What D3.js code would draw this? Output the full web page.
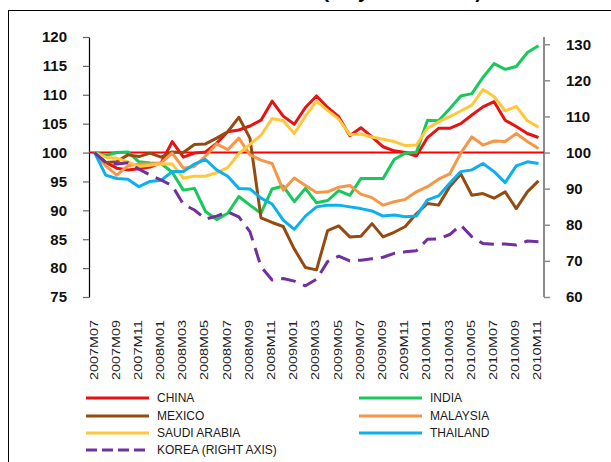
<!DOCTYPE html>
<html><head><meta charset="utf-8">
<script src="https://cdn.jsdelivr.net/npm/d3@7"></script>
<style>body{margin:0;background:#fff}svg{display:block}</style>
</head><body>
<svg id="c" width="611" height="462"></svg>
<script>
const months = ["2007M07","2007M08","2007M09","2007M10","2007M11","2007M12",
"2008M01","2008M02","2008M03","2008M04","2008M05","2008M06","2008M07","2008M08","2008M09","2008M10","2008M11","2008M12",
"2009M01","2009M02","2009M03","2009M04","2009M05","2009M06","2009M07","2009M08","2009M09","2009M10","2009M11","2009M12",
"2010M01","2010M02","2010M03","2010M04","2010M05","2010M06","2010M07","2010M08","2010M09","2010M10","2010M11"];
const tickLabels = ["2007M07","2007M09","2007M11","2008M01","2008M03","2008M05","2008M07","2008M09","2008M11",
"2009M01","2009M03","2009M05","2009M07","2009M09","2009M11","2010M01","2010M03","2010M05","2010M07","2010M09","2010M11"];
const leftTicks = [75,80,85,90,95,100,105,110,115,120];
const rightTicks = [60,70,80,90,100,110,120,130];

const china = [100,98.3,97.3,97,97.2,97.5,98.2,101.9,99.2,99.9,100.1,101.6,103.6,103.9,104.6,105.6,108.9,106.3,104.9,107.8,109.8,107.8,106.2,102.9,104.3,102.7,101,100.3,100,99.4,102.6,104.2,104.2,105,106.5,107.9,108.8,105.6,104.5,103.3,102.6];
const india = [100,99.5,100,100.1,98.4,98.2,98.1,96.6,93.5,93.8,89.8,88.4,89.5,92.4,90.9,89.5,93.7,94.2,91.5,93.8,91.3,91.7,93.4,92.6,95.5,95.5,95.5,98.8,99.9,100,105.6,105.5,107.6,109.8,110.2,113,115.4,114.4,114.9,117.3,118.5];
const mexico = [100,98.3,98.4,99.6,99.3,99.9,99.2,100.1,100,101.4,101.5,102.5,103.6,106.1,102.5,88.7,87.9,87.2,83.3,80.1,79.7,86.5,87.3,85.4,85.5,87.7,85.4,86.2,87.2,89.4,91.2,90.9,94.1,96.3,92.6,92.9,92.1,93.2,90.3,93.2,95.1];
const malaysia = [100,97.7,96.1,97.7,98,98,98.2,99.9,97.3,97.6,99.4,101.5,100.5,102.5,99.6,98.7,98.1,93.5,95.6,94.3,93.1,93.2,94,94.3,92.8,92.2,90.9,91.5,91.9,93.2,94.1,95.4,96.3,99.9,102.7,101.3,102,101.9,103.3,101.9,100.7];
const saudi = [100,99.2,99,98.4,97.6,97.8,98,98,95.6,95.9,95.9,96.5,97.4,99.8,101.4,103,105.9,105.5,103.3,106.3,108.9,107.3,105.8,103.1,103.2,102.7,102.3,101.9,101.2,101.3,104.2,105.3,106.2,107.2,108.2,110.9,109.7,107.2,108,105.5,104.4];
const thailand = [100,96.1,95.5,95.4,94.1,95,95.2,96.7,96.7,98,98.8,97,95.9,93.8,93.7,92.1,91.1,88.3,86.7,89,90.6,90.9,90.9,90.6,90.3,89.9,89,89.2,88.9,89,91.8,92.5,94.7,96.7,97,98.1,96.7,94.8,97.7,98.4,98.1];
const korea = [100,97.2,96.8,97.2,95.4,93.8,92.4,90.8,85.7,84.1,81.6,82.4,83.6,82.2,78.1,68.4,64.7,65.1,64.4,63.1,64.9,69.8,71.3,70,70.2,70.6,71,72.1,72.5,72.8,76,76.1,77.3,79.9,76.7,74.8,74.6,74.7,74.4,75.5,75.3];

const seriesNames = ["CHINA","INDIA","MEXICO","MALAYSIA","SAUDI ARABIA","THAILAND","KOREA (RIGHT AXIS)"];
const seriesValues = [china,india,mexico,malaysia,saudi,thailand,korea];
const seriesColors = ["#e81212","#16c95a","#954a10","#f79646","#ffc83a","#0cb0ee","#7030a0"];
const seriesAxis = ["L","L","L","L","L","L","R"];

const svg = d3.select("#c");
const font = "'Liberation Sans', Arial, sans-serif";

// outer frame
svg.append("rect").attr("x",8.5).attr("y",10.5).attr("width",700).attr("height",500)
  .attr("fill","none").attr("stroke","#000").attr("stroke-width",1);

// title (cut off at the top edge, as in the reference)
svg.append("text").attr("x",482).attr("y",-2).attr("text-anchor","end")
  .attr("font-family",font).attr("font-weight","bold").attr("font-size",20)
  .text("REAL EFFECTIVE EXCHANGE RATES (July 2007 = 100)");

const x = d3.scalePoint().domain(months).range([89,544]).padding(0.5);
const yL = d3.scaleLinear().domain([75,120]).range([297,37]);
const yR = d3.scaleLinear().domain([60,130]).range([297,44.2]);

// left axis
const gL = svg.append("g").attr("transform","translate(89,0)")
  .call(d3.axisLeft(yL).tickValues(leftTicks).tickSize(6).tickSizeOuter(0).tickPadding(16));
gL.select(".domain").attr("stroke","#000").attr("stroke-width",1.2);
gL.selectAll(".tick line").attr("stroke","#666").attr("stroke-width",1.2);
gL.selectAll(".tick text").attr("font-family",font).attr("font-weight","bold").attr("font-size",15).attr("fill","#111");

// right axis
const gR = svg.append("g").attr("transform","translate(544,0)")
  .call(d3.axisRight(yR).tickValues(rightTicks).tickSize(6).tickSizeOuter(0).tickPadding(16));
gR.select(".domain").remove();
gR.append("line").attr("x1",0).attr("x2",0).attr("y1",37).attr("y2",297).attr("stroke","#8c8c8c").attr("stroke-width",2);
gR.selectAll(".tick line").attr("stroke","#8c8c8c").attr("stroke-width",1.5);
gR.selectAll(".tick text").attr("font-family",font).attr("font-weight","bold").attr("font-size",15).attr("fill","#111");

// x labels
const gx = svg.append("g");
gx.selectAll("text").data(tickLabels).join("text")
  .attr("transform",d=>`translate(${x(d)-1},380) rotate(-90)`)
  .attr("text-anchor","start").attr("dy","0.36em")
  .attr("font-family",font).attr("font-size",11).attr("fill","#222")
  .attr("textLength",60).attr("lengthAdjust","spacingAndGlyphs")
  .text(d=>d);

// 100 reference line
svg.append("line").attr("x1",89).attr("x2",544).attr("y1",yL(100)).attr("y2",yL(100))
  .attr("stroke","#ff0000").attr("stroke-width",2);

// series
seriesNames.forEach((n,k)=>{
  const ys = seriesAxis[k]==="L" ? yL : yR;
  const line = d3.line().x((d,i)=>x(months[i])).y(d=>ys(d));
  svg.append("path").datum(seriesValues[k]).attr("d",line)
    .attr("fill","none").attr("stroke",seriesColors[k]).attr("stroke-width",3)
    .attr("stroke-linejoin","round")
    .attr("stroke-dasharray", seriesAxis[k]==="R" ? "15,8" : null);
});

// legend
const legCols = [86,359];
const legRows = [398,416,433,450];
const legPos = [[0,0],[1,0],[0,1],[1,1],[0,2],[1,2],[0,3]];
seriesNames.forEach((n,k)=>{
  const [c,r] = legPos[k];
  const lx = legCols[c], ly = legRows[r];
  const dashed = seriesAxis[k]==="R";
  svg.append("line").attr("x1",lx).attr("x2",lx+(dashed?59:63)).attr("y1",ly).attr("y2",ly)
    .attr("stroke",seriesColors[k]).attr("stroke-width",3)
    .attr("stroke-dasharray",dashed?"11,5":null);
  svg.append("text").attr("x",lx+71).attr("y",ly).attr("dy","0.36em")
    .attr("font-family",font).attr("font-size",12).attr("fill","#1a1a1a").text(n);
});
</script>
</body></html>
